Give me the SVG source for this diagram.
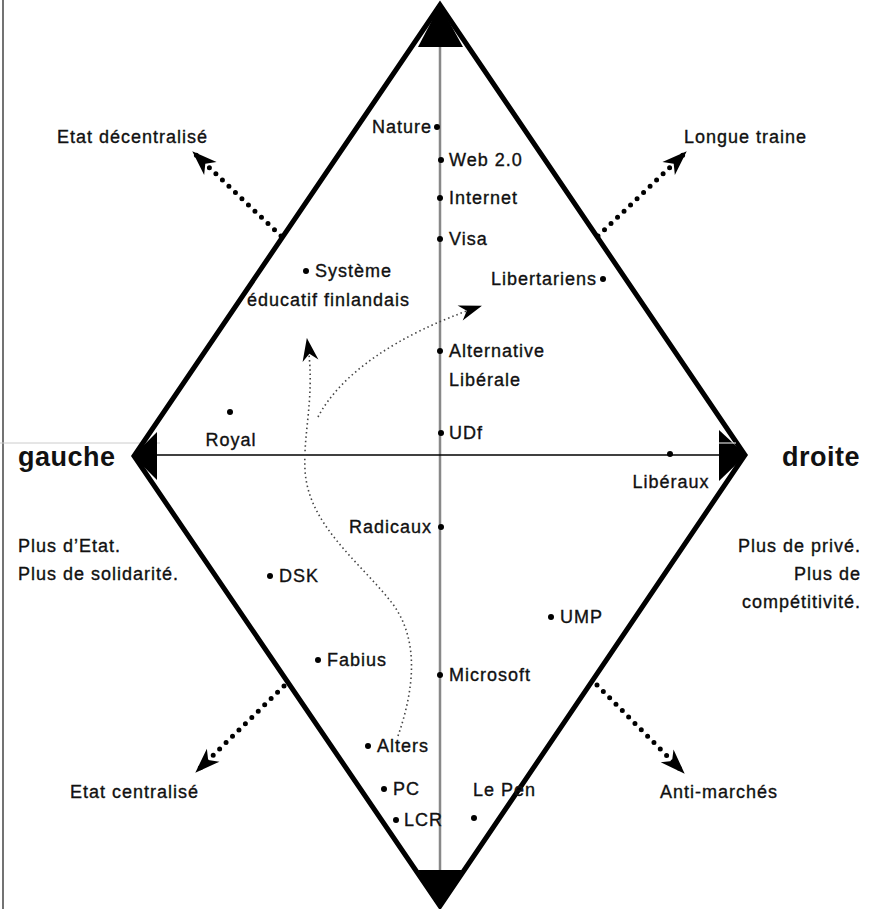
<svg xmlns="http://www.w3.org/2000/svg" width="874" height="909" viewBox="0 0 874 909">
<style>
text{font-family:"Liberation Sans",Arial,sans-serif;font-size:18px;fill:#111;stroke:#111;stroke-width:0.35;letter-spacing:1px}
.big{font-size:27px;font-weight:bold;letter-spacing:0.5px;stroke-width:0}
.end{text-anchor:end}
.mid{text-anchor:middle}
.edge{stroke:#000;stroke-width:5;fill:none;stroke-linejoin:miter}
.dotarrow{stroke:#000;stroke-width:5;stroke-linecap:round;stroke-dasharray:0 9;fill:none}
.thin{stroke:#444;stroke-width:1.6;stroke-dasharray:1.5 3;fill:none}
.pt{fill:#000}
</style>
<defs>
<marker id="ah" markerUnits="userSpaceOnUse" orient="auto" viewBox="0 0 26 20" refX="25" refY="10" markerWidth="26" markerHeight="20">
<path d="M26,10 L1,1 L8,10 L1,19 Z" fill="#000"/>
</marker>
<marker id="ahs" markerUnits="userSpaceOnUse" orient="auto" viewBox="0 0 24 18" refX="23" refY="9" markerWidth="24" markerHeight="18">
<path d="M24,9 L1,1 L8,9 L1,17 Z" fill="#000"/>
</marker>
</defs>
<rect width="874" height="909" fill="#fff"/>
<line x1="3" y1="0" x2="3" y2="909" stroke="#444" stroke-width="1.5"/>
<line x1="0" y1="443" x2="160" y2="443" stroke="#ccc" stroke-width="1"/>

<g id="frame">
<path class="edge" d="M440,5 L134,456 L440,906 L745,455 Z"/>
<polygon points="440,5 463,47 418,47" fill="#000"/>
<polygon points="440,908 418,870 463,870" fill="#000"/>
<polygon points="133,456 157,432 157,480" fill="#000"/>
<polygon points="746,455 719,430 719,481" fill="#000"/>
<line x1="440" y1="47" x2="440" y2="870" stroke="#888" stroke-width="2.5"/>
<line x1="157" y1="455" x2="719" y2="455" stroke="#000" stroke-width="1.5"/>
<line x1="719" y1="443" x2="736" y2="443" stroke="#fff" stroke-width="1"/>
</g>

<g id="connectors">
<line class="dotarrow" x1="281" y1="236" x2="193" y2="152" marker-end="url(#ah)"/>
<line class="dotarrow" x1="598" y1="236" x2="686" y2="152" marker-end="url(#ah)"/>
<line class="dotarrow" x1="284" y1="686" x2="196" y2="772" marker-end="url(#ah)"/>
<line class="dotarrow" x1="597" y1="685" x2="684" y2="773" marker-end="url(#ah)"/>
<path class="thin" d="M398,736 C414,690 420,640 392,603 C360,562 308,525 305,470 C303,430 316,395 307,339" marker-end="url(#ahs)"/>
<path class="thin" d="M318,417 C340,375 395,335 481,306" marker-end="url(#ahs)"/>
</g>

<g id="axis-labels">
<text class="big" x="18" y="466">gauche</text>
<text class="big" x="782" y="466">droite</text>
<text x="18" y="552">Plus d’Etat.</text>
<text x="18" y="580">Plus de solidarité.</text>
<text class="end" x="861" y="552">Plus de privé.</text>
<text class="end" x="861" y="580">Plus de</text>
<text class="end" x="861" y="608">compétitivité.</text>
</g>

<g id="direction-labels">
<text x="57" y="143">Etat décentralisé</text>
<text x="684" y="143">Longue traine</text>
<text x="70" y="798">Etat centralisé</text>
<text x="660" y="798">Anti-marchés</text>
</g>

<g id="node-nature"><circle class="pt" cx="437" cy="127" r="3"/><text class="end" x="432" y="133">Nature</text></g>
<g id="node-web20"><circle class="pt" cx="441" cy="160" r="3"/><text x="449" y="166">Web 2.0</text></g>
<g id="node-internet"><circle class="pt" cx="440" cy="198" r="3"/><text x="449" y="204">Internet</text></g>
<g id="node-visa"><circle class="pt" cx="440" cy="239" r="3"/><text x="449" y="245">Visa</text></g>
<g id="node-systeme"><circle class="pt" cx="306" cy="271" r="3"/><text x="315" y="277">Système</text><text x="247" y="306">éducatif finlandais</text></g>
<g id="node-libertariens"><circle class="pt" cx="603" cy="279" r="3"/><text class="end" x="597" y="285">Libertariens</text></g>
<g id="node-alternative"><circle class="pt" cx="440" cy="351" r="3"/><text x="449" y="357">Alternative</text><text x="449" y="386">Libérale</text></g>
<g id="node-royal"><circle class="pt" cx="230" cy="412" r="3"/><text class="mid" x="231" y="446">Royal</text></g>
<g id="node-udf"><circle class="pt" cx="441" cy="433" r="3"/><text x="449" y="439">UDf</text></g>
<g id="node-liberaux"><circle class="pt" cx="670" cy="454" r="3"/><text class="mid" x="671" y="488">Libéraux</text></g>
<g id="node-radicaux"><circle class="pt" cx="441" cy="527" r="3"/><text class="end" x="432" y="533">Radicaux</text></g>
<g id="node-dsk"><circle class="pt" cx="270" cy="576" r="3"/><text x="279" y="582">DSK</text></g>
<g id="node-ump"><circle class="pt" cx="551" cy="617" r="3"/><text x="560" y="623">UMP</text></g>
<g id="node-fabius"><circle class="pt" cx="318" cy="660" r="3"/><text x="327" y="666">Fabius</text></g>
<g id="node-microsoft"><circle class="pt" cx="440" cy="675" r="3"/><text x="449" y="681">Microsoft</text></g>
<g id="node-alters"><circle class="pt" cx="368" cy="746" r="3"/><text x="377" y="752">Alters</text></g>
<g id="node-pc"><circle class="pt" cx="384" cy="789" r="3"/><text x="393" y="795">PC</text></g>
<g id="node-lcr"><circle class="pt" cx="396" cy="820" r="3"/><text x="404" y="826">LCR</text></g>
<g id="node-lepen"><circle class="pt" cx="474" cy="818" r="3"/><text x="473" y="796">Le Pen</text></g>
</svg>
